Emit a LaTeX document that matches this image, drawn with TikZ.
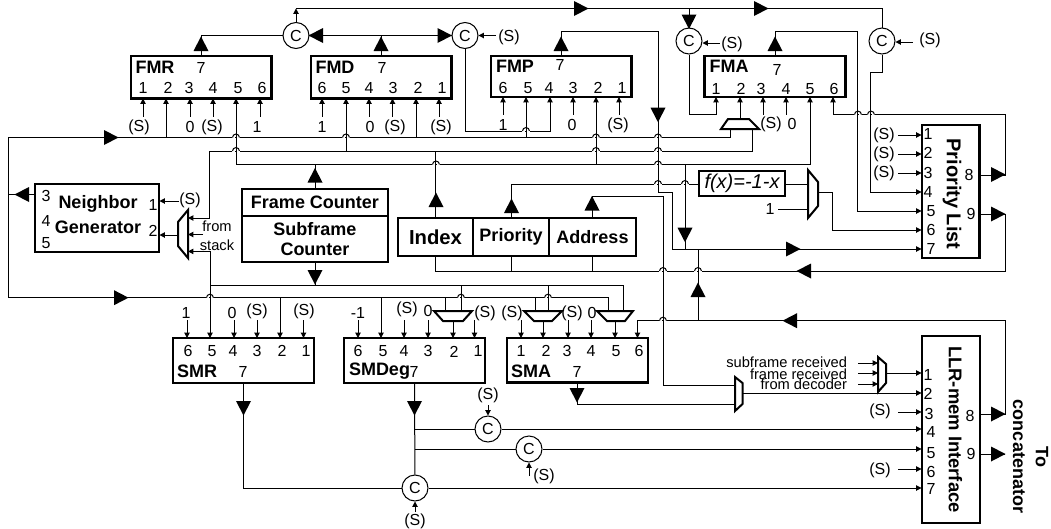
\documentclass[tikz,border=0pt]{standalone}
\usepackage{fontspec}
\setmainfont{Liberation Sans}
\usetikzlibrary{arrows.meta,calc}
\tikzset{
  x=0.75pt,y=-0.75pt,
  wire/.style={line width=0.75pt,line join=miter},
  sa/.style={wire,-{Triangle[length=4pt,width=4pt]}},
  sr/.style={wire,{Triangle[length=4pt,width=4pt]}-},
  regbox/.style={draw,line width=1.6pt,inner sep=0pt,outer sep=0pt,font=\fontsize{13.5pt}{16pt}\selectfont\bfseries,align=center},
  cnode/.style={draw,circle,fill=white,line width=0.75pt,minimum size=19.5pt,inner sep=0pt,font=\fontsize{12pt}{14pt}\selectfont},
  lab/.style={inner sep=0pt,outer sep=0pt,font=\fontsize{12pt}{14pt}\selectfont},
  blab/.style={inner sep=0pt,outer sep=0pt,font=\fontsize{13.5pt}{16pt}\selectfont\bfseries},
  slab/.style={inner sep=0pt,outer sep=0pt,font=\fontsize{11pt}{13pt}\selectfont},
  muxshape/.style={draw,line width=1.5pt,fill=white,line join=miter},
}
\newcommand\regnode[6]{\node[regbox,minimum width={(#4-#2)*0.75pt},minimum height={(#5-#3)*0.75pt}] (#1) at ({(#2+#4)/2},{(#3+#5)/2}) {#6};}
% big triangle: apex x, apex y, direction angle
\newcommand\tri[3]{\fill[shift={(#1,#2)},rotate=#3] (0.5,0) -- (-14,7.5) -- (-14,-7.5) -- cycle;}
\newcommand\hop[2]{%
  \fill[white] (#1-4,#2-0.9) rectangle (#1-0.6,#2+0.9);
  \fill[white] (#1+0.6,#2-0.9) rectangle (#1+4,#2+0.9);
  \draw[wire] (#1-3.5,#2) arc[start angle=180,end angle=0,radius=2.6pt];}
\begin{document}
\begin{tikzpicture}
\useasboundingbox (0,0) rectangle (1051,529);
% ---------- blocks
\regnode{fmr}{131}{56}{271.5}{98.5}{}
\regnode{fmd}{311}{56}{451.5}{98.5}{}
\regnode{fmp}{491}{56}{631.5}{97}{}
\regnode{fma}{704.5}{56}{845.5}{97}{}
\regnode{neigh}{35}{184}{159}{252}{}
\regnode{frame}{242}{189}{388}{216}{Frame Counter}
\regnode{subf}{242}{216}{388}{262}{Subframe\\[-1pt]Counter}
\regnode{idx}{398}{218}{473}{256}{\fontsize{15.2pt}{18pt}\selectfont Index}
\regnode{prt}{473}{218}{549}{256}{Priority}
\regnode{adr}{549}{218}{636}{256}{Address}
\regnode{fx}{699}{171}{785}{196}{\fontsize{15pt}{18pt}\selectfont\mdseries\itshape f(x)=-1-x}
\regnode{prio}{922}{125}{979.5}{258}{}
\regnode{smr}{173}{338}{314}{383}{}
\regnode{smd}{344}{338}{485}{383}{}
\regnode{sma}{507}{338}{648}{382.5}{}
\regnode{llr}{922}{336}{980}{523}{}
% ---------- combiners
\node[cnode] (c1) at (296,35.5) {C};
\node[cnode] (c2) at (465,35.5) {C};
\node[cnode] (c3) at (689,41) {C};
\node[cnode] (c4) at (882,41) {C};
\node[cnode] (c5) at (488,429) {C};
\node[cnode] (c6) at (529,449) {C};
\node[cnode] (c7) at (415,488) {C};
% ---------- pins
\foreach \n/\x in {1/143,2/166,3/190,4/213,5/236,6/260} {\coordinate (fmr\n) at (\x,98.5);}
\foreach \n/\x in {6/322,5/346,4/369,3/392.5,2/416,1/439} {\coordinate (fmd\n) at (\x,98.5);}
\foreach \n/\x in {6/503,5/526,4/550,3/573,2/596,1/619} {\coordinate (fmp\n) at (\x,97);}
\foreach \n/\x in {1/716,2/740,3/763,4/786,5/810,6/833} {\coordinate (fma\n) at (\x,97);}
\foreach \n/\x in {6/187,5/210,4/234,3/257,2/280,1/303.5} {\coordinate (smr\n) at (\x,338);}
\foreach \n/\x in {6/358,5/381,4/404,3/428,2/453,1/474.5} {\coordinate (smd\n) at (\x,338);}
\foreach \n/\x in {1/521,2/543,3/568,4/591,5/615,6/637.5} {\coordinate (sma\n) at (\x,338);}
\foreach \n/\y in {1/135,2/154,3/173,4/192,5/211,6/230,7/249} {\coordinate (pl\n) at (921.5,\y);}
\foreach \n/\y in {1/373,2/393,3/412,4/429,5/449,6/469,7/488} {\coordinate (ll\n) at (921.5,\y);}
\coordinate (pl8) at (979.5,175); \coordinate (pl9) at (979.5,214);
\coordinate (ll8) at (980,414); \coordinate (ll9) at (980,454);
\coordinate (fmrq) at (201,56); \coordinate (fmdq) at (381,56);
\coordinate (fmpq) at (561,56); \coordinate (fmaq) at (775,56);
\coordinate (smrq) at (243.5,383); \coordinate (smdq) at (414.5,383); \coordinate (smaq) at (577,382.5);
% ---------- bus rails (only one axis of each matters)
\foreach \n/\y in {top/8.5,y31/31.5,y72/72,y115/114.6,y131/131,busA/137.5,busB/151,busC/164.5,yf/184,y192/192,y196/196,y249/249,y271/271,y285/285,y297/297.7,y320/320.7,y385/385,y404/404} {\coordinate (\n) at (0,\y);}
\foreach \n/\x in {x8/8.5,x209/209,x210/210,x658/658,x663/663,x672/672,x685/685,x698/698,x730/730,x752/752,x857/857,x870/870,x1005/1005} {\coordinate (\n) at (\x,0);}
% ---------- wires, top
\draw[sa] (c1) -- (c1 |- top);
\draw[wire] (c1 |- top) -- (c4 |- top) -- (c4);
\draw[wire] (c3 |- top) -- (c3);
\draw[wire] (fmrq) |- (c1);
\draw[wire] (c1) -- (c2);
\draw[wire] (fmdq) -- (fmdq |- c1);
\coordinate (c2s) at (496,35.5); \draw[sr] (c2) -- (c2s);
\coordinate (c3s) at (720,43); \draw[sr] (c3.east |- c3s) -- (c3s);
\coordinate (c4s) at (913,42); \draw[sr] (c4.east |- c4s) -- (c4s);
\draw[sa] (c2) -- (c2 |- y131) -- (fmp4 |- y131) -- (fmp4);
\draw[sa] (fmpq) -- (fmpq |- y31) -- (x658 |- y31) -- (x658 |- y192) -- (x672 |- y192) -- (x672 |- pl7) -- (pl7);
\draw[sa] (fmaq) -- (fmaq |- y31) -- (x857 |- y31) -- (x857 |- pl5) -- (pl5);
\draw[sa] (c3) -- (c3 |- y115) -- (fma1 |- y115) -- (fma1);
\draw[sa] (c4) -- (c4 |- y72) -- (x870 |- y72) -- (x870 |- pl4) -- (pl4);
% buses
\draw[wire] (smr2 |- y297) -- (x8 |- y297) -- (x8 |- busA) -- (x730 |- busA) -- ($(x730 |- busA)+(0,-8.5)$);
\draw[sa] (x209 |- busB) -- (x209 |- 0,218) -- (188,218);
\draw[wire] (x209 |- busB) -- (x752 |- busB) -- ($(x752 |- busB)+(0,-22)$);
\draw[sa] (fmr5 |- busC) -- (fmr5);
\draw[sa] (fmr5 |- busC) -- (fma5 |- busC) -- (fma5);
\draw[sa] (fmr2 |- busA) -- (fmr2);
\draw[sa] (fmd5 |- busB) -- (fmd5);
\draw[sa] (fmd2 |- busA) -- (fmd2);
\draw[sa] (fmp5 |- busA) -- (fmp5);
\draw[sa] (fmp2 |- busC) -- (fmp2);
\draw[wire] (frame.north) -- (frame.north |- busC);
\draw[wire] (idx.north) -- (idx.north |- busB);
\draw[wire] (prt.north) -- (prt.north |- yf) -- (fx.west |- yf);
\draw[wire] (adr.north) -- (adr.north |- y196) -- (x663 |- y196) -- (x663 |- y385) -- (735,385);
\draw[wire] (x685 |- busC) -- (x685 |- y249);
\draw[wire] (x698 |- y320) -- (x698 |- y249);
% priority list
\coordinate (fxmuxo) at (832,192);
\draw[wire] (fx.east |- yf) -- (808,184);
\coordinate (one) at (778,209); \draw[wire] (one) -- (808,209);
\draw[sa] (818,192) -- (fxmuxo) -- (fxmuxo |- pl6) -- (pl6);
\foreach \n in {1,2,3} {\draw[sr] (pl\n) -- ++(-24,0);}
\draw[sa] (pl8) -- (x1005 |- pl8) -- (x1005 |- y115) -- (fma6 |- y115) -- (fma6);
\draw[wire] (pl9) -- (x1005 |- pl9) -- (x1005 |- y271) -- (idx.south |- y271) -- (idx.south);
\draw[wire] (prt.south) -- (prt.south |- y271);
\draw[wire] (adr.south) -- (adr.south |- y271);
\draw[sa] (ll8) -- (x1005 |- ll8) -- (x1005 |- y320) -- (sma6 |- y320) -- (sma6);
\draw[wire] (ll9) -- (x1005 |- ll9);
% neighbour generator
\draw[wire] (neigh.west |- 0,194.5) -- (x8 |- 0,194.5);
\draw[sa] (179,201) -- (159.5,201);
\draw[sa] (178,235) -- (159.5,235);
\draw[sa] (203,234.5) -- (188,234.5);
\draw[sa] (x210 |- 0,251.4) -- (188,251.4);
\draw[wire] (x210 |- 0,251.4) -- (x210 |- y297);
\draw[sa] (x210 |- y285) -- (smr5);
\draw[wire] (x210 |- y285) -- (623,285) -- (623,311);
\draw[wire] (subf.south) -- (subf.south |- y285);
% lower buses
\draw[wire] (smr2 |- y297) -- (608,297.7) -- (608,311);
\draw[sa] (smr2 |- y297) -- (smr2);
\draw[sa] (smd5 |- y297) -- (smd5);
\draw[wire] (445,297.7) -- (445,311);
\draw[wire] (461,285) -- (461,311);
\draw[wire] (535,297.7) -- (535,311);
\draw[wire] (548,285) -- (548,311);
\draw[sa] (453,321) -- (smd2);
\draw[sa] (543,321) -- (sma2);
\draw[sa] (615,321) -- (sma5);
% free pin stubs
\foreach \p in {fmr1,fmr3,fmr4,fmr6,fmd6,fmd4,fmd3,fmd1,fmp6,fmp3,fmp1,fma3,fma4} {\draw[sr] (\p) -- ++(0,18);}
\draw[sa] (740,119) -- (fma2);
\foreach \p in {smr6,smr4,smr3,smr1,smd6,smd4,smd3,smd1,sma1,sma3,sma4} {\draw[sr] (\p) -- ++(0,-18);}
% SM outputs
\draw[wire] (smrq) |- (c7);
\draw[wire] (smdq) -- (c7);
\draw[sa] (c7) -- (ll7);
\draw[sa] (smdq |- c5) -- (c5) -- (ll4);
\draw[sa] (smdq |- c6) -- (c6) -- (ll5);
\draw[wire] (smaq) -- (smaq |- y404) -- (735,404);
\coordinate (c5s) at (488,405); \draw[sa] (c5s) -- (c5);
\coordinate (c6s) at (529,476); \draw[sa] (c6s) -- (c6);
\coordinate (c7s) at (415,512); \draw[sa] (c7s) -- (c7);
\draw[sa] (742,393) -- (ll2);
\draw[sa] (886,373) -- (ll1);
\foreach \y in {363,373,384} {\draw[sa] (858,\y) -- (878,\y);}
\foreach \n in {3,6} {\draw[sr] (ll\n) -- ++(-24,0);}
% hops
\foreach \x/\y in {236/137.5,346/137.5,596/137.5,658/137.5,236/151,596/151,658/151,436/164.5,658/164.5,526/131,858/114.6,871/114.6,658/184,685/184,663/271,698/271,663/320.7,210/297.7,461/297.7,548/297.7} {\hop{\x}{\y}}
% big triangles
\tri{201}{37}{90}\tri{381}{37}{90}\tri{561}{37}{90}\tri{775}{37}{90}
\tri{309}{35.5}{180}\tri{451.5}{35.5}{0}
\tri{588}{8.5}{0}\tri{768}{8.5}{0}
\tri{689}{28.5}{-90}\tri{658}{121.7}{-90}
\tri{118}{137.5}{0}\tri{15}{194.5}{180}\tri{128}{297.7}{0}
\tri{315}{168.5}{90}\tri{315}{284}{-90}
\tri{436}{193}{90}\tri{511.5}{199}{90}\tri{592}{196.5}{90}
\tri{685}{241.7}{-90}\tri{698}{283}{90}
\tri{800}{249}{0}\tri{797}{271}{180}\tri{783}{320.7}{180}
\tri{1005}{174.5}{0}\tri{1005}{214}{0}\tri{1005}{414}{0}\tri{1005}{454}{0}
\tri{243.5}{415}{-90}\tri{414.5}{415}{-90}\tri{577}{402}{-90}
% muxes
\draw[muxshape] (728,119) -- (749,119) -- (759,129) -- (721,129) -- cycle;
\draw[muxshape] (808,170) -- (818,182) -- (818,206) -- (808,218) -- cycle;
\draw[muxshape] (188,210) -- (188,258) -- (178,246) -- (178,222) -- cycle;
\draw[muxshape] (434,311) -- (472,311) -- (463,321) -- (443,321) -- cycle;
\draw[muxshape] (524,311) -- (562,311) -- (552,321) -- (534,321) -- cycle;
\draw[muxshape] (597,311) -- (633,311) -- (625,321) -- (607,321) -- cycle;
\draw[muxshape] (735,377) -- (742.5,383) -- (742.5,404) -- (735,411) -- cycle;
\draw[muxshape] (878,357) -- (886,364) -- (886,383) -- (878,392) -- cycle;
% ---------- labels
\foreach \x/\y/\t [count=\i] in {
 143/88/1,168/88/2,189/88/3,213/88/4,238/88/5,262/88/6,201/68/7,
 139/127/(S),190/127/0,212/127/(S),257/127/1,
 322/88/6,346/88/5,369/88/4,393/88/3,418/88/2,442/88/1,382/68/7,
 322/127/1,370/127/0,395/127/(S),441/127/(S),
 503/88/6,528/88/5,549/88/4,573/88/3,598/88/2,622/88/1,560/65/7,
 503/125/1,572/125/0,618/125/(S),
 716/89/1,741/89/2,761/89/3,786/89/4,810/89/5,834/89/6,777/70/7,
 771/124/(S),792/124/0,
 509/37/(S),732/44/(S),930/40/(S),
 46/196/3,46/221/4,46/243/5,153/205/1,153/231/2,190/200/(S),
 186/313/1,232/313/0,257/311/(S),304/311/(S),
 188/351/6,212/351/5,233/351/4,257/351/3,282/351/2,306/351/1,243/372/7,
 358/313/-1,407/309/(S),428/311/0,485/313/(S),
 358/351/6,383/351/5,404/351/4,428/351/3,454/352/2,478/351/1,414/372/7,
 512/313/(S),572/313/(S),592/313/0,
 521/351/1,546/351/2,567/351/3,591/351/4,616/351/5,639/351/6,577/372/7,
 488/395/(S),544/476/(S),415/521/(S),
 884/135/(S),884/154/(S),884/173/(S),
 928/134/1,928/153/2,928/173/3,928/192/4,931/211/5,931/230/6,931/249/7,
 969/175/8,971/214/9,770/209/1,
 880/411/(S),880/470/(S),
 928/375/1,928/394/2,929/414/3,931/432/4,931/453/5,931/472/6,931/489/7,
 970/416/8,971/454/9}
 {\node[lab] (n\i) at (\x,\y) {\t};}
\foreach \x/\y/\t [count=\i] in {155/67/FMR,335/67/FMD,515/66/FMP,729/66/FMA,197/371/SMR,531/371/SMA}
 {\node[blab] (b\i) at (\x,\y) {\t};}
\node[blab,anchor=west] (smdname) at (349,371) {SMDeg};
\node[blab] (ng1) at (98,204) {Neighbor};
\node[blab] (ng2) at (98,227) {Generator};
\node[slab] (fs1) at (217,226) {from};
\node[slab] (fs2) at (217,245) {stack};
\node[slab,anchor=east] (t1) at (847,362) {subframe received};
\node[slab,anchor=east] (t2) at (847,374) {frame received};
\node[slab,anchor=east] (t3) at (847,384) {from decoder};
\node[blab,rotate=-90,font=\fontsize{15pt}{18pt}\selectfont\bfseries] (plt) at (952,194) {Priority List};
\node[blab,rotate=-90,font=\fontsize{13.8pt}{16pt}\selectfont\bfseries] (llt) at (955.5,429.5) {LLR-mem Interface};
\node[blab,rotate=-90] (to) at (1042,457) {To};
\node[blab,rotate=-90] (cc) at (1019,456.5) {concatenator};
\end{tikzpicture}
\end{document}
